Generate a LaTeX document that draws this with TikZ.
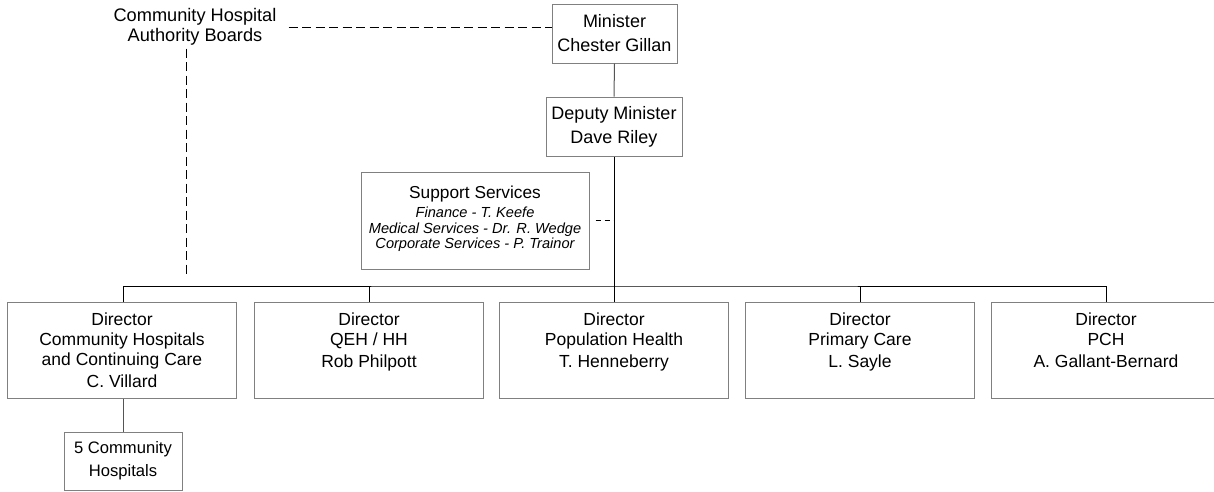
\documentclass[tikz,border=0pt]{standalone}
\usepackage{fontspec}
\setmainfont{Liberation Sans}
\definecolor{boxgray}{HTML}{808080}
\definecolor{linkgray}{HTML}{555555}
\begin{document}
\begin{tikzpicture}[x=1pt,y=-1pt,
  box/.style={draw=boxgray,line width=1pt,rectangle,inner sep=0pt,fill=white},
  topbox/.style={box,align=center,font=\fontsize{18}{24}\selectfont},
  dirbox/.style={box,minimum width=229pt,minimum height=96pt},
  dtext/.style={anchor=north,inner sep=0pt,align=center,font=\fontsize{17.5}{20}\selectfont},
  bus/.style={draw=black,line width=1pt},
  link/.style={draw=linkgray,line width=1pt},
  dashline/.style={draw=black,line width=1pt,dash pattern=on 9pt off 4.5pt}]
\clip (0,0) rectangle (1214,491);
\fill[white] (0,0) rectangle (1214,491);

% top
\node[topbox,minimum width=125pt,minimum height=59pt] (min) at (614.5,33.5) {Minister\\Chester Gillan};
\node[topbox,minimum width=136pt,minimum height=59pt] (dep) at (614,126.5) {Deputy Minister\\Dave Riley};
\node[inner xsep=12pt,inner ysep=3pt,align=center,font=\fontsize{18.2}{20}\selectfont] (chab) at (195,27) {Community Hospital\\Authority Boards};

% support services
\node[box,minimum width=228pt,minimum height=97pt] (sup) at (475,220.5) {};
\node[anchor=north,inner sep=0pt,font=\fontsize{17.3}{20}\selectfont] (supt) at (475,186) {Support Services};
\node[anchor=north,inner sep=0pt,align=center,font=\fontsize{14.6}{15.5}\selectfont\itshape] (supl) at (475,207) {Finance - T. Keefe\\Medical Services - Dr. R. Wedge\\Corporate Services - P. Trainor};

% directors
\node[dirbox] (d1) at (122,350) {};
\node[dirbox] (d2) at (369,350) {};
\node[dirbox] (d3) at (614,350) {};
\node[dirbox] (d4) at (860,350) {};
\node[dirbox] (d5) at (1106,350) {};
\node[dtext] (d1t) at (122,313) {Director\\Community Hospitals\\and Continuing Care\\[2pt]C. Villard};
\node[dtext] (d2t) at (369,313) {Director\\QEH / HH\\[2pt]Rob Philpott};
\node[dtext] (d3t) at (614,313) {Director\\Population Health\\[2pt]T. Henneberry};
\node[dtext] (d4t) at (860,313) {Director\\Primary Care\\[2pt]L. Sayle};
\node[dtext] (d5t) at (1106,313) {Director\\PCH\\[2pt]A. Gallant-Bernard};

\node[box,align=center,minimum width=118pt,minimum height=58pt,font=\fontsize{16.6}{23}\selectfont] (h5) at (123,461) {5 Community\\Hospitals};

% connectors
\coordinate (busc) at (614,286);
\draw[link] (min.south) -- (dep.north);
\draw[bus] (dep.south) -- (busc);
\draw[bus] (d1.north -| 123,0) |- (busc) -| (d5.north);
\draw[bus] (d2.north) -- (d2.north |- busc);
\draw[bus] (d3.north) -- (busc);
\draw[bus] (d4.north) -- (d4.north |- busc);
\draw[link] (d1.south -| 123,0) -- (h5.north);

% dashed relations
\draw[dashline] (chab.east) -- (chab.east -| min.west);
\coordinate (chabend) at (186,277);
\draw[dashline] (chab.south -| chabend) -- (chabend);
\draw[draw=black,line width=1pt,dash pattern=on 5pt off 4pt] ([xshift=6pt]sup.east) -- (sup.east -| dep.south);
\end{tikzpicture}
\end{document}
